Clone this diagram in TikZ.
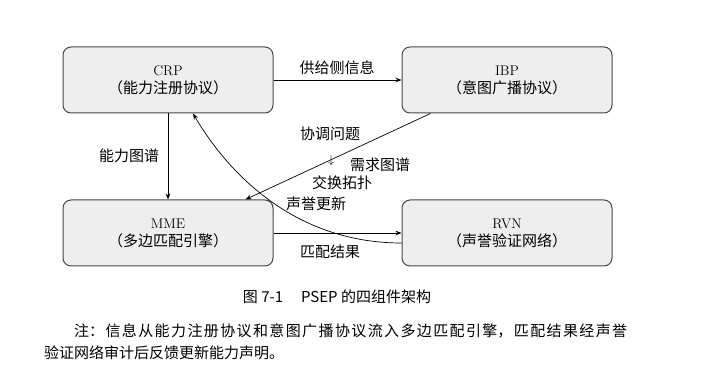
\documentclass[tikz,border=0pt]{standalone}
\usepackage{fontspec}
\usepackage{tikz}
\usetikzlibrary{arrows.meta,positioning,calc}
\newfontfamily\cjk{Noto Sans CJK SC}
\newcommand{\zhbox}[1]{{\cjk\fontsize{15}{18}\selectfont #1}}

\begin{document}
\begin{tikzpicture}[x=1pt, y=-1pt, font=\fontsize{14}{18}\selectfont,
                    >={Stealth[length=6pt,width=4.5pt]}]
  \useasboundingbox (0,0) rectangle (726,382);
  \tikzset{comp/.style={draw=gray!55!black, line width=1pt, rounded corners=8pt,
                        fill=gray!13, minimum width=210pt, minimum height=66pt,
                        align=center, inner sep=2pt},
           flow/.style={->, line width=0.7pt},
           lbl/.style={font=\cjk\fontsize{15}{17}\selectfont, inner sep=1pt}}
  \node[comp]                        (crp) at (168,80) {CRP\\[0pt]\zhbox{（能力注册协议）}};
  \node[comp, right=128pt of crp]    (ibp) {IBP\\[0pt]\zhbox{（意图广播协议）}};
  \node[comp, below=86pt of crp]     (mme) {MME\\[0pt]\zhbox{（多边匹配引擎）}};
  \node[comp, right=128pt of mme]    (rvn) {RVN\\[0pt]\zhbox{（声誉验证网络）}};

  % connectors
  \draw[flow] (crp) -- (ibp);
  \draw[flow] (crp) -- (mme);
  \draw[flow] ([xshift=29pt]ibp.south west) -- ([xshift=-28pt]mme.north east);
  \draw[flow] (mme) -- (rvn);
  \draw[flow] ([yshift=-10pt]rvn.west) .. controls +(-100,0) and +(40,68) .. ([xshift=25pt]crp.south);

  % labels
  \node[lbl] (lsupply) at (337,68)  {供给侧信息};
  \node[lbl] (lcap)    at (129,156) {能力图谱};
  \node[lbl] (lcoord)  at (330,134) {协调问题};
  \node[inner sep=0pt] (ldown) at (331,161) {\fontsize{13}{13}\selectfont$\downarrow$};
  \node[lbl] (ldemand) at (380,165) {需求图谱};
  \node[lbl] (ltopo)   at (342,183) {交换拓扑};
  \node[lbl] (lrep)    at (316,204) {声誉更新};
  \node[lbl] (lmatch)  at (330,252) {匹配结果};

  % caption and note
  \node[font=\cjk\fontsize{15}{18}\selectfont] (caption) at (337,297)
       {图 7-1\hspace{1.2em}PSEP 的四组件架构};
  \node[anchor=north west, inner sep=0pt, text width=583pt, align=justify,
        font=\cjk\fontsize{15}{22}\selectfont] (note) at (44,324)
       {\XeTeXlinebreaklocale "zh"\XeTeXlinebreakskip=0pt plus 4pt
        \hspace*{2em}注：信息从能力注册协议和意图广播协议流入多边匹配引擎，匹配结果经声誉\linebreak
        验证网络审计后反馈更新能力声明。};
\end{tikzpicture}
\end{document}
